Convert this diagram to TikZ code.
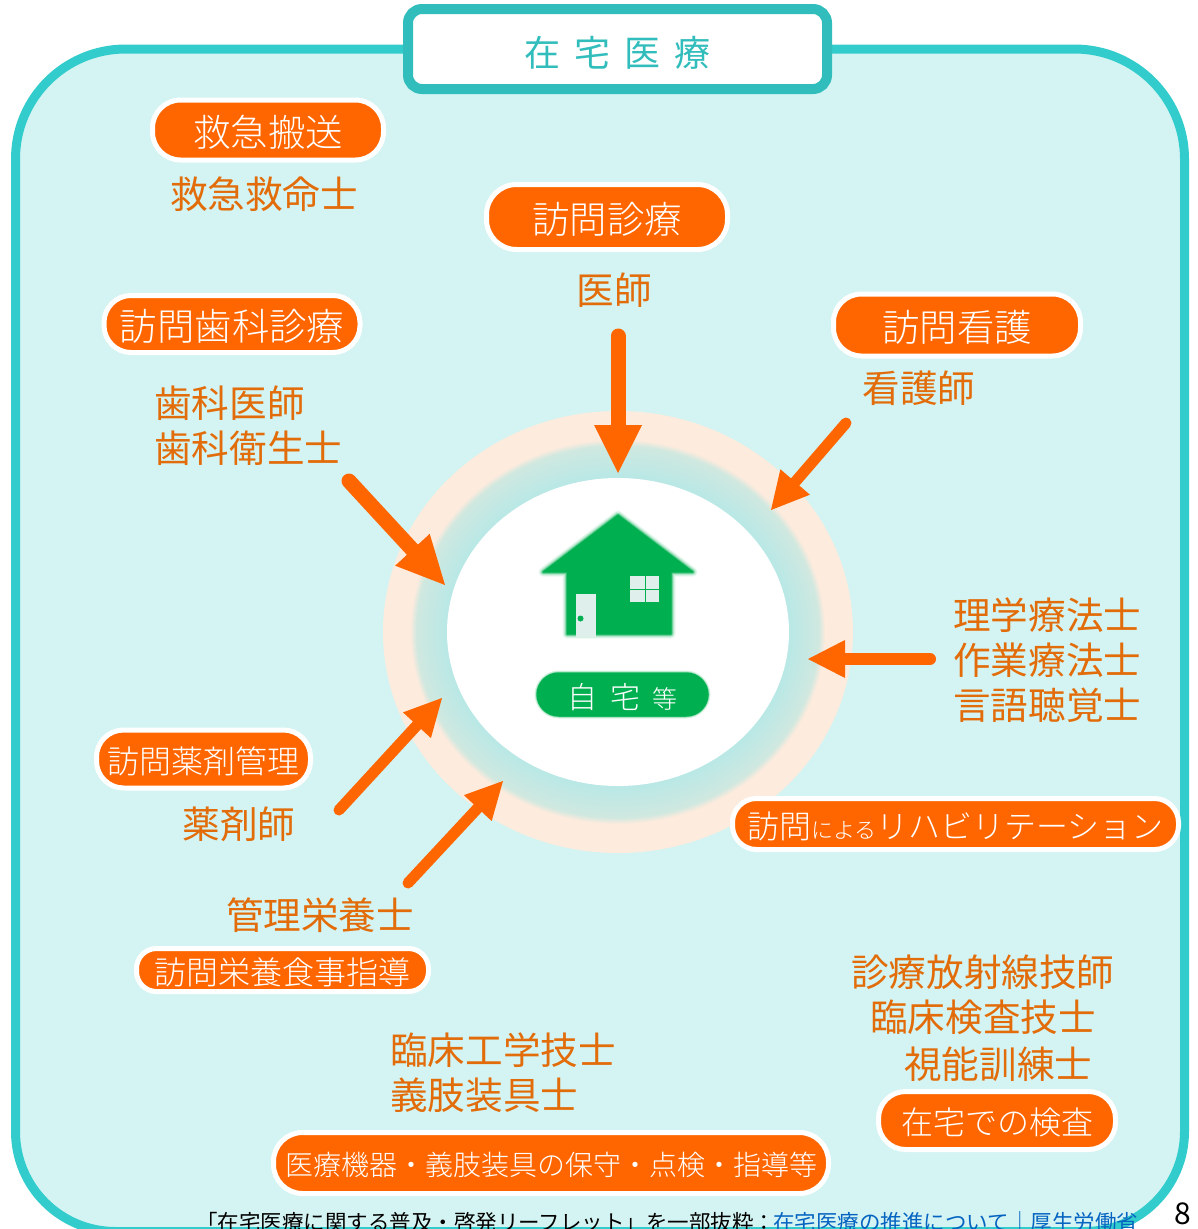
\documentclass[tikz,border=0pt]{standalone}
\usepackage{fontspec}
\usetikzlibrary{arrows.meta}
\setmainfont{Noto Sans CJK JP}
\newfontfamily\jplight{Noto Sans CJK JP Light}
\definecolor{panelfill}{HTML}{D3F4F2}
\definecolor{panelline}{HTML}{33CCCC}
\definecolor{titleline}{HTML}{31BDBB}
\definecolor{peach}{HTML}{FDEBDD}
\definecolor{ringmid}{HTML}{D0E8E0}
\definecolor{ringin}{HTML}{B8E8E6}
\definecolor{orng}{HTML}{FF6600}
\definecolor{orngtext}{HTML}{E36C0A}
\definecolor{housegreen}{HTML}{00B050}
\definecolor{doorpale}{HTML}{DFEFEC}
\definecolor{linkblue}{HTML}{0563C1}
\tikzset{
  x=1pt,y=-1pt,
  lab/.style={inner sep=0pt,font=\fontsize{#1}{#1}\selectfont,text height=.88*#1pt,text depth=.12*#1pt},
  role/.style={lab=#1,text=orngtext},
  rolewest/.style={lab=#1,text=orngtext,anchor=west},
  pill/.style n args={3}{draw=white,line width=5pt,fill=orng,text=white,inner sep=0pt,
    minimum width=#1pt,minimum height=#2pt,rounded corners=#3pt},
  pilltext/.style={font=\jplight\fontsize{#1}{#1}\selectfont,text height=.88*#1pt+4pt,text depth=.12*#1pt},
  bigarrow/.style n args={3}{draw=orng,line width=#1pt,line cap=round,
    -{Triangle[length=#2pt,width=#3pt,fill=orng,line width=0pt]}},
}
\begin{document}
\begin{tikzpicture}
\useasboundingbox (0,0) rectangle (1198,1229);
\clip (0,0) rectangle (1198,1229);
\fill[white] (0,0) rectangle (1198,1229);
% panel
\draw[panelline,line width=9pt,fill=panelfill]
  (125.5,49) -- (1074.5,49) .. controls (1135.25,49) and (1184.5,98.25) .. (1184.5,159)
  -- (1184.5,1131.5) .. controls (1184.5,1186.7) and (1139.7,1231.5) .. (1084.5,1231.5)
  -- (115.5,1231.5) .. controls (60.3,1231.5) and (15.5,1186.7) .. (15.5,1131.5)
  -- (15.5,159) .. controls (15.5,98.25) and (64.75,49) .. (125.5,49) -- cycle;
\node[draw=titleline,line width=10pt,fill=white,rounded corners=14pt,minimum width=419pt,minimum height=80pt,
  text=panelline,lab=35] (title) at (617.5,49) {};
\node[text=titleline,lab=36] (titletext) at (617.5,53) {在\hspace{14pt}宅\hspace{14pt}医\hspace{14pt}療};
% ring
\fill[peach] (618,632) ellipse [x radius=235,y radius=221];
\foreach \i in {0,...,30}{
  \pgfmathsetmacro{\rx}{208-\i*37/30}
  \pgfmathsetmacro{\ry}{193-\i*39/30}
  \ifnum\i<5
    \pgfmathtruncatemacro{\p}{\i*20}
    \colorlet{ringtmp}{ringmid!\p!peach}
  \else
    \pgfmathtruncatemacro{\p}{(\i-5)*4}
    \colorlet{ringtmp}{ringin!\p!ringmid}
  \fi
  \fill[ringtmp] (618,632) ellipse [x radius=\rx,y radius=\ry];
}
\fill[white] (618,632) ellipse [x radius=171,y radius=154];
% house
\foreach \w/\o in {9/.08,7/.12,5/.18,3.5/.3,2/.5,0.5/1}{
  \draw[housegreen,fill=housegreen,line width=\w pt,opacity=\o,line join=round]
    (618,515) -- (693,572) -- (671,572) -- (671,634) -- (567,634) -- (567,572) -- (543,572) -- cycle;
}
\fill[doorpale] (576,594) rectangle (596,637);
\fill[housegreen] (580.5,618.5) circle (3);
\fill[doorpale] (630,576) rectangle (659,602);
\draw[housegreen,line width=1pt] (645,575) -- (645,603) (628,589.5) -- (661,589.5);
\foreach \w/\o in {5/.15,3/.3,1.5/.5}{
  \fill[housegreen,draw=housegreen,opacity=\o,line width=\w pt,rounded corners=22pt] (537,673) rectangle (708,716);
}
\node[fill=housegreen,rounded corners=22pt,minimum width=172pt,minimum height=44pt,inner sep=0pt] (homepill) at (622.5,694.5) {};
\node[lab=30,text=white,font=\jplight\fontsize{30}{30}\selectfont] (home1) at (582,697) {自};
\node[lab=30,text=white,font=\jplight\fontsize{30}{30}\selectfont] (home2) at (625,697) {宅};
\node[lab=25,text=white,font=\jplight\fontsize{25}{25}\selectfont] (home3) at (665,699) {等};
% anchors of arrows
\coordinate (a1s) at (618,336); \coordinate (a1e) at (618,473);
\coordinate (a2s) at (846,423); \coordinate (a2e) at (771,510);
\coordinate (a3s) at (349,481); \coordinate (a3e) at (445,585);
\coordinate (a4s) at (930,659); \coordinate (a4e) at (808,659);
\coordinate (a5s) at (339,810); \coordinate (a5e) at (442,698);
\coordinate (a6s) at (408,883); \coordinate (a6e) at (503,781);
\draw[bigarrow={15}{48}{48}] (a1s) -- (a1e);
\draw[bigarrow={11}{37}{39}] (a2s) -- (a2e);
\draw[bigarrow={15}{48}{47}] (a3s) -- (a3e);
\draw[bigarrow={12}{37}{38}] (a4s) -- (a4e);
\draw[bigarrow={11}{37}{38}] (a5s) -- (a5e);
\draw[bigarrow={11}{37}{38}] (a6s) -- (a6e);
% pills
\node[pill={231}{60}{28},pilltext=37.4] (kyu) at (268,130) {救急搬送};
\node[pill={241}{65}{30},pilltext=37.4] (shin) at (607,217) {訪問診療};
\node[pill={256}{57}{27},pilltext=37.4] (shika) at (232,324) {訪問歯科診療};
\node[pill={247}{62}{28},pilltext=37.4] (kango) at (957,325) {訪問看護};
\node[pill={214}{58}{27},pilltext=32] (yaku) at (203.5,759) {訪問薬剤管理};
\node[pill={446}{51}{24},pilltext=32] (reha) at (955.5,824) {訪問{\fontsize{22}{22}\selectfont による}リハビリテーション};
\node[pill={292}{43}{20},pilltext=32] (eiyo) at (282.5,970) {訪問栄養食事指導};
\node[pill={237}{58}{27},pilltext=32] (kensa) at (997,1120.5) {在宅での検査};
\node[pill={555}{61}{29},pilltext=28] (kiki) at (551,1163) {医療機器・義肢装具の保守・点検・指導等};
% roles
\node[role=37.6] (r1) at (264,194) {救急救命士};
\node[role=37.6] (r2) at (614,290) {医師};
\node[rolewest=37.6] (r3) at (154,403) {歯科医師};
\node[rolewest=37.6] (r4) at (154,448) {歯科衛生士};
\node[role=37.6] (r5) at (919,388) {看護師};
\node[rolewest=37.6] (r6) at (953,615) {理学療法士};
\node[rolewest=37.6] (r7) at (953,660) {作業療法士};
\node[rolewest=37.6] (r8) at (953,705) {言語聴覚士};
\node[role=37.6] (r9) at (239,824) {薬剤師};
\node[role=37.6] (r10) at (320,915) {管理栄養士};
\node[rolewest=37.6] (r11) at (851,972) {診療放射線技師};
\node[rolewest=37.6] (r12) at (870,1017) {臨床検査技士};
\node[rolewest=37.6] (r13) at (904,1064) {視能訓練士};
\node[rolewest=37.6] (r14) at (390,1050) {臨床工学技士};
\node[rolewest=37.6] (r15) at (390,1095) {義肢装具士};
% footer
\node[lab=21.5,anchor=west,text=black] (foot1) at (196,1222) {「在宅医療に関する普及・啓発リーフレット」を一部抜粋：};
\node[lab=21.5,anchor=west,text=linkblue] (foot2) at (773,1222) {在宅医療の推進について｜厚生労働省};
\node[lab=30,text=black] (page) at (1182.5,1213) {8};
\end{tikzpicture}
\end{document}
